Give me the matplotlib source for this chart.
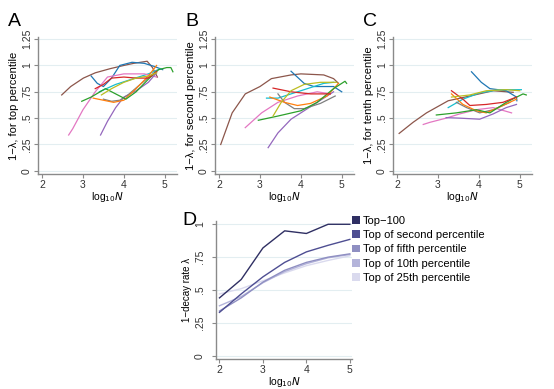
import matplotlib.pyplot as plt
from matplotlib.patches import Patch

plt.rcParams['font.family'] = ['Liberation Sans', 'DejaVu Sans']

# panel A: 1-lambda for top percentile
a_brown_x = [2.48, 2.7, 3.01, 3.3, 3.67, 4.0, 4.24, 4.57, 4.7, 4.82]
a_brown_y = [0.72, 0.80, 0.88, 0.93, 0.97, 1.00, 1.02, 1.04, 0.98, 0.89]
a_blue_x = [3.2, 3.35, 3.5, 3.7, 3.9, 4.2, 4.5, 4.75, 4.95]
a_blue_y = [0.90, 0.83, 0.80, 0.88, 1.00, 1.03, 1.02, 0.99, 0.96]
a_cyan_x = [3.4, 3.8, 4.2, 4.6, 4.9]
a_cyan_y = [0.75, 0.82, 0.87, 0.92, 0.97]
a_pink_x = [2.65, 2.75, 3.0, 3.3, 3.6, 4.0, 4.5, 4.8]
a_pink_y = [0.34, 0.40, 0.58, 0.75, 0.89, 0.92, 0.92, 0.89]
a_purple_x = [3.43, 3.6, 3.8, 4.0, 4.3, 4.6, 4.8]
a_purple_y = [0.34, 0.47, 0.60, 0.70, 0.76, 0.84, 0.93]
a_gray_x = [3.5, 3.7, 3.9, 4.1, 4.4, 4.8]
a_gray_y = [0.68, 0.66, 0.67, 0.72, 0.82, 0.95]
a_orange_x = [3.25, 3.5, 3.75, 4.0, 4.3, 4.6, 4.8]
a_orange_y = [0.69, 0.67, 0.65, 0.67, 0.78, 0.90, 1.00]
a_green_x = [2.97, 3.2, 3.55, 3.8, 4.05, 4.3, 4.6, 4.85, 5.05, 5.15, 5.2]
a_green_y = [0.66, 0.70, 0.78, 0.73, 0.68, 0.75, 0.87, 0.96, 0.98, 0.98, 0.94]
a_red_x = [3.3, 3.5, 3.7, 4.0, 4.3, 4.6, 4.8]
a_red_y = [0.78, 0.82, 0.88, 0.89, 0.88, 0.88, 0.94]
a_olive_x = [3.45, 3.7, 4.0, 4.3, 4.6, 4.8]
a_olive_y = [0.72, 0.78, 0.84, 0.88, 0.90, 0.93]

# panel B: second percentile
b_brown_x = [2.04, 2.32, 2.64, 3.0, 3.28, 3.76, 4.0, 4.56, 4.8, 4.92]
b_brown_y = [0.25, 0.55, 0.73, 0.80, 0.875, 0.91, 0.92, 0.91, 0.875, 0.83]
b_blue_x = [3.76, 4.08, 4.32, 4.8, 5.0]
b_blue_y = [0.945, 0.83, 0.80, 0.80, 0.75]
b_cyan_x = [3.16, 3.44, 4.0, 4.56, 4.8]
b_cyan_y = [0.69, 0.69, 0.76, 0.83, 0.84]
b_pink_x = [2.64, 3.04, 3.44, 3.92, 4.4, 4.72]
b_pink_y = [0.41, 0.55, 0.65, 0.71, 0.75, 0.73]
b_purple_x = [3.2, 3.44, 3.76, 4.08, 4.48, 4.8]
b_purple_y = [0.22, 0.36, 0.49, 0.57, 0.67, 0.75]
b_green_x = [2.96, 3.44, 4.0, 4.4, 4.8, 5.08, 5.12]
b_green_y = [0.48, 0.52, 0.57, 0.65, 0.78, 0.85, 0.83]
b_orange_x = [3.24, 3.6, 3.92, 4.24, 4.64, 4.92]
b_orange_y = [0.70, 0.65, 0.62, 0.64, 0.71, 0.83]
b_red_x = [3.32, 3.76, 4.24, 4.72]
b_red_y = [0.785, 0.75, 0.73, 0.73]
b_olive_x = [3.32, 3.52, 3.76, 4.08, 4.48, 4.88]
b_olive_y = [0.52, 0.65, 0.76, 0.82, 0.84, 0.84]
b_gray_x = [3.44, 3.6, 3.84, 4.08, 4.48, 4.84]
b_gray_y = [0.73, 0.65, 0.59, 0.59, 0.64, 0.71]

# panel C: tenth percentile
c_brown_x = [2.05, 2.39, 2.72, 3.25, 3.78, 4.35, 4.84]
c_brown_y = [0.355, 0.46, 0.55, 0.665, 0.71, 0.76, 0.745]
c_blue_x = [3.82, 4.06, 4.27, 4.67, 4.92, 4.93]
c_blue_y = [0.94, 0.84, 0.78, 0.76, 0.70, 0.665]
c_cyan_x = [3.25, 3.61, 4.02, 4.51, 5.04]
c_cyan_y = [0.60, 0.68, 0.74, 0.77, 0.77]
c_olive_x = [3.33, 3.78, 4.18, 4.67, 5.0]
c_olive_y = [0.70, 0.72, 0.76, 0.77, 0.76]
c_orange_x = [3.33, 3.61, 3.94, 4.18, 4.59, 4.92]
c_orange_y = [0.73, 0.63, 0.57, 0.55, 0.62, 0.68]
c_red_x = [3.33, 3.61, 3.78, 4.18, 4.59, 4.92]
c_red_y = [0.76, 0.68, 0.62, 0.63, 0.65, 0.70]
c_pink_x = [2.64, 2.8, 3.2, 3.53, 3.94, 4.35, 4.8]
c_pink_y = [0.44, 0.46, 0.50, 0.54, 0.58, 0.60, 0.55]
c_purple_x = [3.2, 3.53, 4.02, 4.35, 4.67, 4.92]
c_purple_y = [0.505, 0.50, 0.49, 0.54, 0.60, 0.63]
c_green_x = [2.96, 3.45, 3.94, 4.27, 4.67, 5.08, 5.16]
c_green_y = [0.53, 0.55, 0.58, 0.55, 0.65, 0.73, 0.72]
c_gray_x = [3.45, 3.7, 4.02, 4.35, 4.76]
c_gray_y = [0.65, 0.60, 0.55, 0.58, 0.65]

# panel D: averages
d_x = [2, 2.5, 3, 3.5, 4, 4.5, 5]
d_top100 = [0.44, 0.58, 0.82, 0.95, 0.93, 1.0, 1.0]
d_second = [0.33, 0.47, 0.60, 0.71, 0.79, 0.84, 0.885]
d_fifth = [0.34, 0.44, 0.56, 0.65, 0.71, 0.75, 0.775]
d_tenth = [0.38, 0.45, 0.555, 0.64, 0.70, 0.745, 0.77]
d_25th = [0.47, 0.51, 0.57, 0.63, 0.685, 0.725, 0.76]
d_labels = ['Top\u2212100', 'Top of second percentile', 'Top of fifth percentile',
            'Top of 10th percentile', 'Top of 25th percentile']
d_colors = ['#2f2f63', '#4e4e92', '#8f8fc2', '#b4b4da', '#dadaee']

panel_a = [(a_brown_x, a_brown_y, 'tab:brown'), (a_blue_x, a_blue_y, 'tab:blue'),
           (a_cyan_x, a_cyan_y, 'tab:cyan'), (a_pink_x, a_pink_y, 'tab:pink'),
           (a_purple_x, a_purple_y, 'tab:purple'), (a_gray_x, a_gray_y, 'tab:gray'),
           (a_orange_x, a_orange_y, 'tab:orange'), (a_green_x, a_green_y, 'tab:green'),
           (a_red_x, a_red_y, 'tab:red'), (a_olive_x, a_olive_y, 'tab:olive')]
panel_b = [(b_brown_x, b_brown_y, 'tab:brown'), (b_blue_x, b_blue_y, 'tab:blue'),
           (b_cyan_x, b_cyan_y, 'tab:cyan'), (b_pink_x, b_pink_y, 'tab:pink'),
           (b_purple_x, b_purple_y, 'tab:purple'), (b_gray_x, b_gray_y, 'tab:gray'),
           (b_orange_x, b_orange_y, 'tab:orange'), (b_green_x, b_green_y, 'tab:green'),
           (b_red_x, b_red_y, 'tab:red'), (b_olive_x, b_olive_y, 'tab:olive')]
panel_c = [(c_brown_x, c_brown_y, 'tab:brown'), (c_blue_x, c_blue_y, 'tab:blue'),
           (c_cyan_x, c_cyan_y, 'tab:cyan'), (c_pink_x, c_pink_y, 'tab:pink'),
           (c_purple_x, c_purple_y, 'tab:purple'), (c_gray_x, c_gray_y, 'tab:gray'),
           (c_orange_x, c_orange_y, 'tab:orange'), (c_green_x, c_green_y, 'tab:green'),
           (c_red_x, c_red_y, 'tab:red'), (c_olive_x, c_olive_y, 'tab:olive')]

AXIS_COL = '#8a8a8a'
GRID_COL = '#e3eef1'


def style_axes(ax, yticks, yticklabels, ypad=1.5):
    ax.set_yticks(yticks)
    ax.set_yticklabels(yticklabels, rotation=90, va='center')
    ax.grid(axis='y', color=GRID_COL, lw=0.8)
    ax.set_axisbelow(True)
    for s in ['top', 'right']:
        ax.spines[s].set_visible(False)
    for s in ['left', 'bottom']:
        ax.spines[s].set_color(AXIS_COL)
        ax.spines[s].set_linewidth(1.0)
    ax.tick_params(labelcolor='#333333', color=AXIS_COL, labelsize=7.5,
                   length=3, width=0.8, pad=1.5)
    ax.tick_params(axis='y', pad=ypad)
    ax.set_xlabel('log$_{10}$$\\it{N}$', fontsize=7.5, labelpad=0)


fig = plt.figure(figsize=(5.54, 3.89), dpi=100)

yt = [0, 0.25, 0.5, 0.75, 1, 1.25]
ytl = ['0', '.25', '.5', '.75', '1', '1.25']
lefts = [38 / 554, 215 / 554, 393 / 554]
names = ['A', 'B', 'C']
ylabels = ['1\u2212\u03bb, for top percentile', '1\u2212\u03bb, for second percentile',
           '1\u2212\u03bb, for tenth percentile']
for left, name, ylab, series in zip(lefts, names, ylabels, [panel_a, panel_b, panel_c]):
    ax = fig.add_axes([left, 0.5527, 0.2509, 0.3522])
    for xs, ys, col in series:
        ax.plot(xs, ys, color=col, lw=0.9)
    ax.set_xlim(1.9, 5.3)
    ax.set_ylim(-0.03, 1.27)
    ax.set_xticks([2, 3, 4, 5])
    style_axes(ax, yt, ytl)
    ax.set_ylabel(ylab, fontsize=8, labelpad=2)
    fig.text(left - 30 / 554, 1 - 21 / 389, name, fontsize=14, va='center', ha='left')

axd = fig.add_axes([216 / 554, 0.0771, 0.2455, 0.3548])
for ys, col in zip([d_25th, d_tenth, d_fifth, d_second, d_top100], d_colors[::-1]):
    axd.plot(d_x, ys, color=col, lw=1.0)
axd.set_xlim(1.92, 5.05)
axd.set_ylim(-0.025, 1.025)
axd.set_xticks([2, 3, 4, 5])
style_axes(axd, [0, 0.25, 0.5, 0.75, 1], ['0', '.25', '.5', '.75', '1'], ypad=5)
axd.set_ylabel('1\u2212decay rate \u03bb', fontsize=7)
axd.yaxis.set_label_coords(-0.175, 0.5)
fig.text(182 / 554, 1 - 221 / 389, 'D', fontsize=14, va='center', ha='left')

handles = [Patch(facecolor=c, edgecolor='none') for c in d_colors]
fig.legend(handles, d_labels, loc='upper left', bbox_to_anchor=(352 / 554, 1 - 216 / 389),
           frameon=False, fontsize=8, handlelength=0.7, handleheight=0.7,
           handletextpad=0.25, labelspacing=0.38, borderaxespad=0, borderpad=0)

fig.savefig('out.png', dpi=100)
